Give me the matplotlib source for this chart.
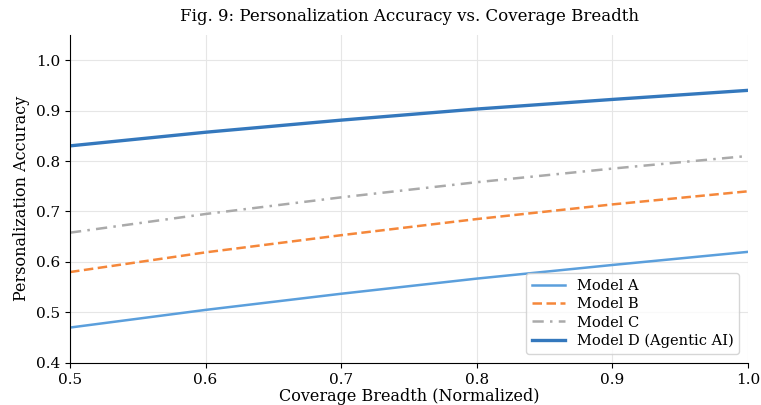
import matplotlib
matplotlib.use("Agg")
import matplotlib.pyplot as plt

plt.rcParams["font.family"] = ["DejaVu Serif"]

coverage = [0.5, 0.6, 0.7, 0.8, 0.9, 1.0]
model_a = [0.470, 0.505, 0.537, 0.567, 0.594, 0.620]
model_b = [0.580, 0.619, 0.653, 0.685, 0.714, 0.740]
model_c = [0.658, 0.695, 0.728, 0.758, 0.785, 0.810]
model_d = [0.830, 0.857, 0.881, 0.903, 0.922, 0.940]

fig = plt.figure(figsize=(7.61, 4.05), dpi=100)
ax = fig.add_axes([0.092, 0.104, 0.891, 0.81])

ax.plot(coverage, model_a, color="#5b9fdc", lw=1.8, label="Model A")
ax.plot(coverage, model_b, color="#f5873a", lw=1.8, ls="--", dashes=(3.8, 1.8),
        label="Model B")
ax.plot(coverage, model_c, color="#aaaaaa", lw=1.8, ls="-.", dashes=(4.5, 2.5, 1, 2.5),
        label="Model C")
ax.plot(coverage, model_d, color="#3478bd", lw=2.4, label="Model D (Agentic AI)")

ax.set_xlim(0.5, 1.0)
ax.set_ylim(0.4, 1.05)
ax.set_xticks([0.5, 0.6, 0.7, 0.8, 0.9, 1.0])
ax.set_yticks([0.4, 0.5, 0.6, 0.7, 0.8, 0.9, 1.0])
ax.tick_params(labelsize=11)
ax.grid(True, color="#e6e6e6", lw=0.8)
ax.spines["top"].set_visible(False)
ax.spines["right"].set_visible(False)

ax.set_title("Fig. 9: Personalization Accuracy vs. Coverage Breadth", fontsize=12, pad=10)
ax.set_xlabel("Coverage Breadth (Normalized)", fontsize=11.5, labelpad=1)
ax.set_ylabel("Personalization Accuracy", fontsize=11.5)
ax.legend(loc="lower right", fontsize=10.5, labelspacing=0.3, handlelength=2.3,
          borderaxespad=0.6)

fig.savefig("out.png", dpi=100)
